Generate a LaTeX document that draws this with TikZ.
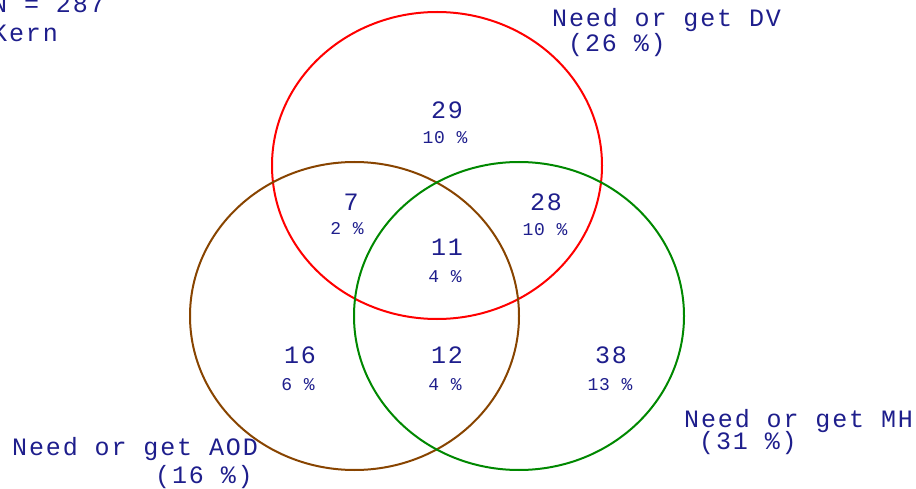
\documentclass[tikz,border=0pt]{standalone}
\usepackage{fontspec}
\setmonofont{Liberation Mono}
\usepackage{xcolor}
\usepackage{tikz}
\usetikzlibrary{positioning}
\definecolor{labelblue}{RGB}{30,30,140}
\definecolor{aodbrown}{RGB}{136,68,0}
\definecolor{mhgreen}{RGB}{0,136,0}

\begin{document}
\begin{tikzpicture}[x=1pt, y=-1pt,
big/.style={font=\ttfamily\fontsize{25}{28}\selectfont\addfontfeature{LetterSpace=7.5}, text=labelblue, inner sep=0pt, anchor=base},
small/.style={font=\ttfamily\fontsize{18}{20}\selectfont\addfontfeature{LetterSpace=5}, text=labelblue, inner sep=0pt, anchor=base},
title/.style={big, anchor=base west},
ring/.style={line width=2pt}
]
\useasboundingbox (0,0) rectangle (916,489);

% Circles
\draw[ring, red] (437,165.5) ellipse [x radius=165pt, y radius=153.5pt];
\draw[ring, aodbrown] (354.5,316) ellipse [x radius=164.5pt, y radius=154pt];
\draw[ring, mhgreen] (519,316) ellipse [x radius=165pt, y radius=154pt];

% Header
\node[title] (total) at (-8,13) {N = 287};
\node[title] (county) at (-8,42) {Kern};

% Set names
\node[title] (dvname) at (552,27) {Need or get DV};
\node[title] (dvpct) at (568,52) {(26 \%)};
\node[title] (mhname) at (684,427) {Need or get MH};
\node[title] (mhpct) at (699,449) {(31 \%)};
\node[title] (aodname) at (12,455) {Need or get AOD};
\node[title] (aodpct) at (155,483) {(16 \%)};

% Counts
\node[big] (dvonly) at (447,119) {29};
\node[small] (dvonlypct) at (445,144) {10 \%};
\node[big] (dvaod) at (351,211) {7};
\node[small] (dvaodpct) at (347,235) {2 \%};
\node[big] (dvmh) at (546,211) {28};
\node[small] (dvmhpct) at (545,236) {10 \%};
\node[big] (all) at (447,256) {11};
\node[small] (allpct) at (445,283) {4 \%};
\node[big] (aodonly) at (300,363) {16};
\node[small] (aodonlypct) at (298,390) {6 \%};
\node[big] (aodmh) at (447,363) {12};
\node[small] (aodmhpct) at (445,390) {4 \%};
\node[big] (mhonly) at (611,363) {38};
\node[small] (mhonlypct) at (610,390) {13 \%};

\end{tikzpicture}
\end{document}
